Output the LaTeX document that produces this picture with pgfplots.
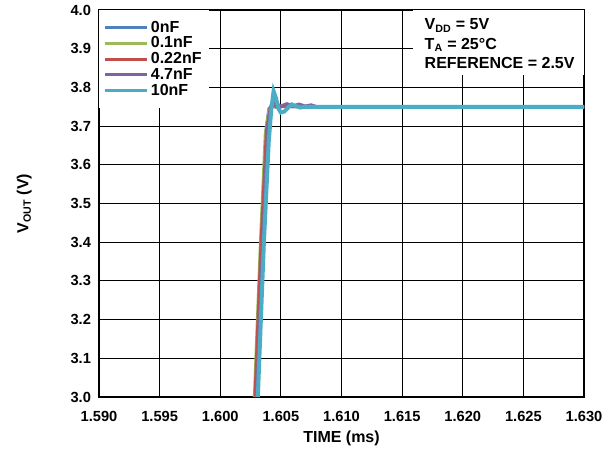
\documentclass[border=0pt]{standalone}
\usepackage{fontspec}
\setmainfont{Liberation Sans}
\usepackage{pgfplots}
\pgfplotsset{compat=1.18}
\definecolor{c0}{HTML}{4F81BD}
\definecolor{c1}{HTML}{9BBB59}
\definecolor{c2}{HTML}{C0504D}
\definecolor{c3}{HTML}{8064A2}
\definecolor{c4}{HTML}{4BACC6}
\begin{document}
\begin{tikzpicture}
\begin{axis}[
  scale only axis,
  width=363.75pt, height=290.25pt,
  xmin=1.590, xmax=1.630, ymin=3.0, ymax=4.0,
  xtick={1.590,1.595,...,1.6301},
  ytick={3.0,3.1,...,4.01},
  xticklabel style={/pgf/number format/.cd,fixed,fixed zerofill,precision=3, /tikz/yshift=-7.5pt},
  yticklabel style={/pgf/number format/.cd,fixed,fixed zerofill,precision=1, /tikz/xshift=-2.5pt},
  /pgf/number format/assume math mode=true,
  ticklabel style={font=\fontsize{11}{13}\selectfont\bfseries},
  major tick length=0pt,
  grid=major,
  major grid style={black, line width=0.8pt},
  axis line style={black, line width=1.5pt},
  xlabel={TIME (ms)},
  ylabel={V\textsubscript{OUT} (V)},
  every axis y label/.style={at={(rel axis cs:0,0.5)}, anchor=center, rotate=90, yshift=56pt,
    font=\fontsize{12}{14}\selectfont\bfseries},
  every axis x label/.style={at={(rel axis cs:0.5,0)}, anchor=center, yshift=-31pt,
    font=\fontsize{12}{14}\selectfont\bfseries},
  legend cell align=left,
  legend style={at={(rel axis cs:0,1)}, anchor=north west, draw=none, fill=white,
    font=\fontsize{12}{14}\selectfont\bfseries, inner xsep=3.5pt, inner ysep=6pt, row sep=-2pt},
  legend image code/.code={\draw[#1, line width=2.2pt] (0pt,0pt) -- (31pt,0pt);},
]
\addplot[c0, line width=2pt] coordinates {
(1.6029,3.0) (1.6034,3.4) (1.6038,3.70) (1.6040,3.745) (1.6042,3.752) (1.6046,3.748)
(1.6050,3.751) (1.6060,3.75) (1.630,3.75)};
\addplot[c1, line width=2pt] coordinates {
(1.6028,3.0) (1.6033,3.4) (1.6037,3.68) (1.6040,3.74) (1.6043,3.752) (1.6047,3.748)
(1.6052,3.751) (1.6060,3.75) (1.630,3.75)};
\addplot[c2, line width=2pt] coordinates {
(1.60285,3.0) (1.60335,3.4) (1.6038,3.69) (1.6041,3.745) (1.6044,3.753) (1.6048,3.748)
(1.6053,3.751) (1.6060,3.75) (1.630,3.75)};
\addplot[c3, line width=2.2pt] coordinates {
(1.6030,3.0) (1.6035,3.4) (1.6039,3.70) (1.6042,3.755) (1.6045,3.760) (1.6050,3.752)
(1.6055,3.758) (1.6060,3.752) (1.6065,3.757) (1.6070,3.752) (1.6075,3.755) (1.6080,3.75) (1.630,3.75)};
\addplot[c4, line width=3pt] coordinates {
(1.6031,3.0) (1.6036,3.4) (1.6040,3.66) (1.6042,3.74) (1.6044,3.79) (1.6046,3.772)
(1.6048,3.745) (1.6050,3.735) (1.6053,3.738) (1.6056,3.748) (1.6059,3.756) (1.6062,3.752)
(1.6066,3.748) (1.6070,3.75) (1.630,3.75)};
\legend{0nF, 0.1nF, 0.22nF, 4.7nF, 10nF}
\node[anchor=north east, fill=white, minimum width=128.25pt, minimum height=48.75pt,
  inner sep=0pt] (box) at (rel axis cs:1,1) {};
\node[anchor=north west, align=left, font=\fontsize{12}{14}\selectfont\bfseries, inner sep=0pt]
  at ([xshift=9pt,yshift=-6.5pt]box.north west)
  {V\textsubscript{DD} = 5V\\[0.5pt] T\textsubscript{A} = 25°C\\[0.5pt] REFERENCE = 2.5V};
\end{axis}
\pgfresetboundingbox
\useasboundingbox ([xshift=-74.25pt,yshift=-42.75pt]current axis.south west) rectangle ([xshift=23.25pt,yshift=7.5pt]current axis.north east);
\end{tikzpicture}
\end{document}
